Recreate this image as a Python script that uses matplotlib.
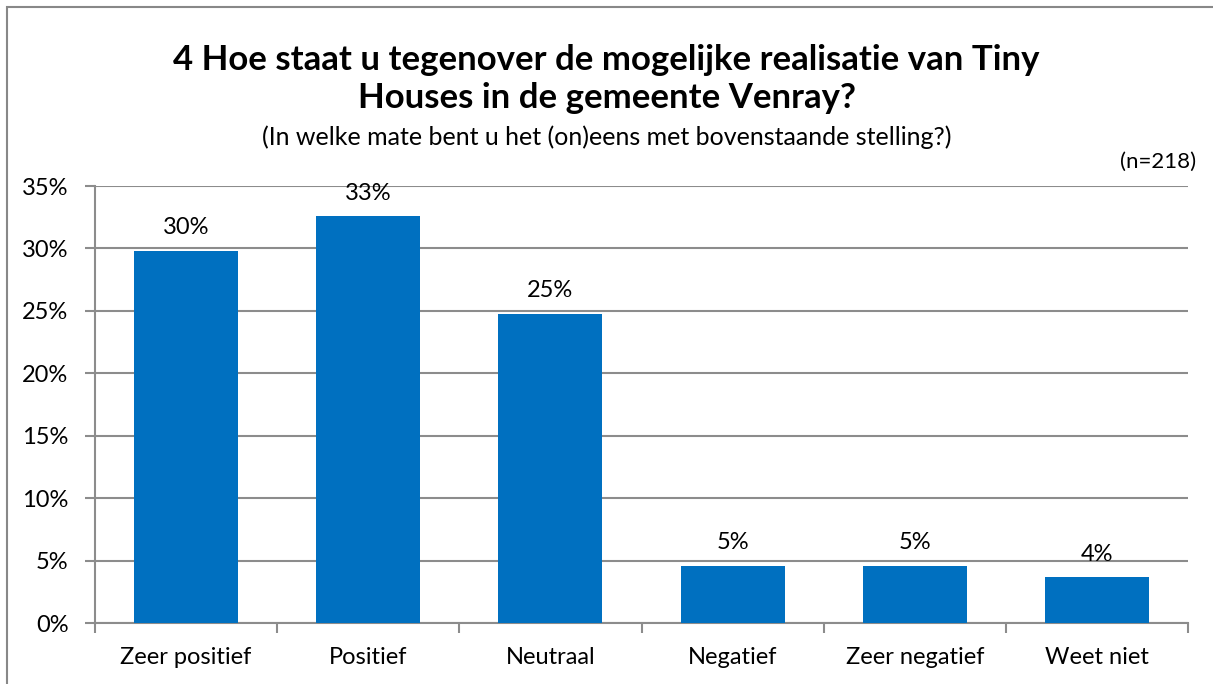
import matplotlib
matplotlib.use('Agg')
import matplotlib.pyplot as plt
from matplotlib.patches import Rectangle
from matplotlib.ticker import FuncFormatter, MultipleLocator

categories = ['Zeer positief', 'Positief', 'Neutraal', 'Negatief', 'Zeer negatief', 'Weet niet']
counts = [65, 71, 54, 10, 10, 8]
n_total = 218
percentages = [100.0 * c / n_total for c in counts]
labels = ['{:.0f}%'.format(p) for p in percentages]

title = '4 Hoe staat u tegenover de mogelijke realisatie van Tiny\nHouses in de gemeente Venray?'
subtitle = '(In welke mate bent u het (on)eens met bovenstaande stelling?)'
n_label = '(n=218)'

plt.rcParams['font.family'] = ['Lato', 'DejaVu Sans']
bar_color = '#0070C0'
grid_color = '#8c8c8c'

fig = plt.figure(figsize=(12.13, 6.84), dpi=100)
ax = fig.add_axes([95 / 1213, 1 - 623 / 684, (1188 - 95) / 1213, (623 - 186) / 684])

x = list(range(len(categories)))
ax.bar(x, percentages, width=0.57, color=bar_color, zorder=3)
for xi, p, lab in zip(x, percentages, labels):
    ax.text(xi, p + 1.0, lab, ha='center', va='bottom', fontsize=17, color='black', zorder=4)

ax.set_xlim(-0.5, len(categories) - 0.5)
ax.set_ylim(0, 35)
ax.yaxis.set_major_locator(MultipleLocator(5))
ax.yaxis.set_major_formatter(FuncFormatter(lambda v, pos: '{:.0f}%'.format(v)))
ax.yaxis.grid(True, color=grid_color, linewidth=1.5, zorder=0)
ax.set_xticks(x)
ax.set_xticklabels(categories, fontsize=17)
ax.set_xticks([i - 0.5 for i in range(len(categories) + 1)], minor=True)
ax.tick_params(axis='x', which='major', length=0, pad=17)
ax.tick_params(axis='x', which='minor', length=7, width=1.5, color=grid_color)
ax.tick_params(axis='y', length=7, width=1.5, color=grid_color, labelsize=17, pad=12)
for s in ['top', 'right']:
    ax.spines[s].set_visible(False)
for s in ['left', 'bottom']:
    ax.spines[s].set_color(grid_color)
    ax.spines[s].set_linewidth(1.5)

fig.text(0.5, 1 - 79 / 684, title, ha='center', va='center', fontsize=25,
         fontweight='bold', linespacing=1.2)
fig.text(0.5, 1 - 137 / 684, subtitle, ha='center', va='center', fontsize=18)
fig.text(1196 / 1213, 1 - 162 / 684, n_label, ha='right', va='center', fontsize=16)

# outer chart frame (right and bottom edges fall outside the image)
fig.patches.append(Rectangle((7 / 1213, -0.01), 1.0, 1 - 7 / 684 + 0.01,
                             transform=fig.transFigure, fill=False,
                             edgecolor='#888888', linewidth=1.5))

plt.savefig('out.png', dpi=100)
